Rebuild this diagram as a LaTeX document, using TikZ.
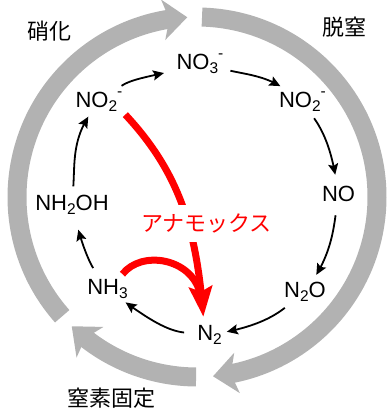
\documentclass[tikz,border=0pt]{standalone}
\usepackage{fontspec}
\setmainfont{Liberation Sans}
\newfontfamily\jpfont{Noto Sans CJK JP}
\usetikzlibrary{arrows.meta,bending}
\definecolor{ringgray}{RGB}{178,178,178}
\definecolor{anared}{RGB}{255,0,0}
\newcommand{\subs}[1]{\raisebox{-3.5pt}{\fontsize{15.5}{15.5}\selectfont #1}}
\newcommand{\sups}[1]{\raisebox{11.5pt}{\fontsize{15.5}{15.5}\selectfont #1}}
\begin{document}
\begin{tikzpicture}[x=1pt,y=1pt,
  ring/.style={draw=ringgray, line width=19pt, -{Stealth[length=24pt,width=40pt,inset=6pt]}},
  chem/.style={font=\fontsize{22}{26}\selectfont, inner sep=0pt, anchor=base},
  jlab/.style={font=\jpfont\fontsize{22}{26}\selectfont, inner sep=0pt},
  blk/.style={draw=black, line width=1.8pt, -{Stealth[length=11pt,width=10pt,inset=2pt]}},
  redarr/.style={draw=anared, line width=7pt, -{Stealth[length=30pt,width=23pt,inset=5pt]}},
  redline/.style={draw=anared, line width=7pt},
]
\useasboundingbox (0,0) rectangle (387,414);
% gray ring arcs
\draw[ring] (197,217) ++(221.5:180) arc[start angle=221.5, end angle=93.1, radius=180];
\draw[ring] (197,217) ++(88.4:180) arc[start angle=88.4, end angle=-84.9, radius=180];
\draw[ring] (197,217) ++(-90.3:180) arc[start angle=-90.3, end angle=-134.1, radius=180];
% process labels
\node[jlab] (nitr) at (49,382.5) {硝化};
\node[jlab] (denit) at (344,386.5) {脱窒};
\node[jlab] (fix) at (111.5,16) {窒素固定};
% species
\node[chem] (no3) at (200,344) {NO\subs{3}\sups{-}};
\node[chem] (no2r) at (302.5,306) {NO\subs{2}\sups{-}};
\node[chem] (no) at (338.5,212) {NO};
\node[chem] (n2o) at (305,116) {N\subs{2}O};
\node[chem] (n2) at (209.5,73) {N\subs{2}};
\node[chem] (nh3) at (107.5,119) {NH\subs{3}};
\node[chem] (nh2oh) at (72,203) {NH\subs{2}OH};
\node[chem] (no2l) at (99,306) {NO\subs{2}\sups{-}};
% cycle arrows
\draw[blk, shorten <=10pt, shorten >=13pt] (no2l) to[out=35,in=195] (no3);
\draw[blk, shorten <=7pt, shorten >=10pt] (no3) to[out=-13,in=144] (no2r);
\draw[blk, shorten <=8pt, shorten >=12pt] (no2r) to[out=-55,in=99] (no);
\draw[blk, shorten <=13pt, shorten >=9pt] (no) to[out=-98,in=56] (n2o);
\draw[blk, shorten <=10pt, shorten >=5pt] (n2o) to[out=-142,in=11] (n2);
\draw[blk, shorten <=13pt, shorten >=6pt] (n2) to[out=174,in=-36] (nh3);
\draw[blk, shorten <=14pt, shorten >=16pt] (nh3) to[out=124,in=-76] (nh2oh);
\draw[blk, shorten <=9pt, shorten >=6pt] (nh2oh) to[out=86,in=234] (no2l);
% anammox
\coordinate (join) at (200,121);
\draw[redline, shorten <=7pt] (nh3.42) .. controls +(52:38) and +(104:36) .. (join);
\draw[redarr, shorten <=4pt, shorten >=9pt] (no2l.south east) to[out=-47,in=94] (n2.120);
\node[jlab, fill=white, text=anared, inner xsep=2pt, inner ysep=9pt] (ana) at (206.5,190.5) {アナモックス};
\end{tikzpicture}
\end{document}
